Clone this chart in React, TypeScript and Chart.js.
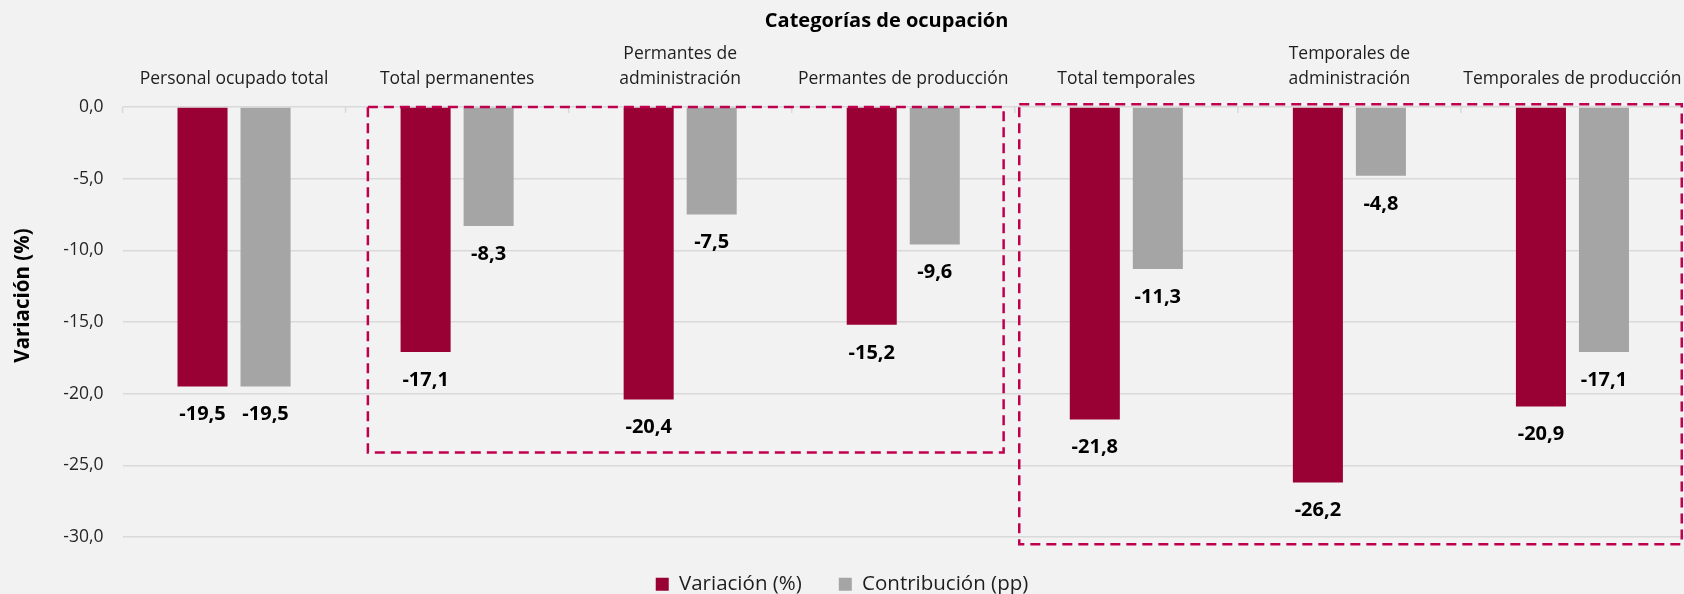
import React, { useEffect, useRef } from "react";
import { Chart, registerables } from "chart.js";

Chart.register(...registerables);

const categories: (string | string[])[] = [
  "Personal ocupado total",
  "Total permanentes",
  ["Permantes de", "administración"],
  "Permantes de producción",
  "Total temporales",
  ["Temporales de", "administración"],
  "Temporales de producción",
];
const variacion = [-19.5, -17.1, -20.4, -15.2, -21.8, -26.2, -20.9];
const contribucion = [-19.5, -8.3, -7.5, -9.6, -11.3, -4.8, -17.1];
const seriesLabels = ["Variación (%)", "Contribución (pp)"];
const seriesColors = ["#990033", "#a5a5a5"];
const yMin = -30;
const yMax = 0;
const yStep = 5;
const chartTitle = "Categorías de ocupación";
const yTitle = "Variación (%)";
// highlight boxes (category-index units / value units)
const boxXFrom = [0.6, 3.52];
const boxXTo = [3.45, 6.49];
const boxYTop = [0, 0.2];
const boxYBottom = [-24.1, -30.5];

const FONT = "'Open Sans', 'Noto Sans', sans-serif";
const fmt = (v: number) => v.toFixed(1).replace(".", ",");

const bgPlugin = {
  id: "bg",
  beforeDraw(chart: any) {
    const { ctx, width, height } = chart;
    ctx.save();
    ctx.fillStyle = "#f2f2f2";
    ctx.fillRect(0, 0, width, height);
    ctx.restore();
  },
};

const titlesPlugin = {
  id: "titles",
  afterDraw(chart: any) {
    const { ctx, width, height } = chart;
    ctx.save();
    ctx.fillStyle = "#000";
    ctx.textAlign = "center";
    ctx.textBaseline = "middle";
    ctx.font = `bold 20px ${FONT}`;
    ctx.fillText(chartTitle, width * 0.5265, 21);
    ctx.translate(23.3, height * 0.4975);
    ctx.rotate(-Math.PI / 2);
    ctx.font = `bold 20.5px ${FONT}`;
    ctx.fillText(yTitle, 0, 0);
    ctx.restore();
  },
};

const catTicksPlugin = {
  id: "catTicks",
  beforeDatasetsDraw(chart: any) {
    const { ctx } = chart;
    const xs = chart.scales.x;
    const ys = chart.scales.y;
    const y0 = ys.getPixelForValue(0);
    ctx.save();
    ctx.strokeStyle = "#d9d9d9";
    ctx.lineWidth = 1.5;
    for (let i = 0; i <= categories.length; i++) {
      const x = xs.getPixelForValue(i - 0.5);
      ctx.beginPath();
      ctx.moveTo(x, y0);
      ctx.lineTo(x, y0 + 6);
      ctx.stroke();
    }
    ctx.restore();
  },
};

const labelsPlugin = {
  id: "valueLabels",
  afterDatasetsDraw(chart: any) {
    const { ctx } = chart;
    ctx.save();
    ctx.font = `bold 20px ${FONT}`;
    ctx.fillStyle = "#000";
    ctx.textAlign = "center";
    ctx.textBaseline = "middle";
    chart.data.datasets.forEach((ds: any, di: number) => {
      const meta = chart.getDatasetMeta(di);
      meta.data.forEach((el: any, i: number) => {
        ctx.fillText(fmt(ds.data[i]), el.x, el.y + 28);
      });
    });
    ctx.restore();
  },
};

const boxesPlugin = {
  id: "boxes",
  afterDatasetsDraw(chart: any) {
    const { ctx } = chart;
    const xs = chart.scales.x;
    const ys = chart.scales.y;
    ctx.save();
    ctx.strokeStyle = "#c0004f";
    ctx.lineWidth = 2.5;
    ctx.setLineDash([10, 6]);
    for (let b = 0; b < boxXFrom.length; b++) {
      const x0 = xs.getPixelForValue(boxXFrom[b]);
      const x1 = xs.getPixelForValue(boxXTo[b]);
      const y0 = ys.getPixelForValue(boxYTop[b]);
      const y1 = ys.getPixelForValue(boxYBottom[b]);
      ctx.strokeRect(x0, y0, x1 - x0, y1 - y0);
    }
    ctx.restore();
  },
};

export default function App() {
  const ref = useRef<HTMLCanvasElement | null>(null);
  useEffect(() => {
    if (!ref.current) return;
    const chart = new Chart(ref.current, {
      type: "bar",
      data: {
        labels: categories as any,
        datasets: [
          {
            label: seriesLabels[0],
            data: variacion,
            backgroundColor: seriesColors[0],
            borderWidth: 0,
            barPercentage: 0.794,
            categoryPercentage: 0.565,
          },
          {
            label: seriesLabels[1],
            data: contribucion,
            backgroundColor: seriesColors[1],
            borderWidth: 0,
            barPercentage: 0.794,
            categoryPercentage: 0.565,
          },
        ],
      },
      options: {
        responsive: false,
        animation: false,
        devicePixelRatio: 1,
        layout: { padding: { left: 0, right: 0, top: 0, bottom: -10.5 } },
        plugins: {
          title: { display: false },
          legend: {
            position: "bottom",
            labels: {
              boxWidth: 13,
              boxHeight: 13,
              color: "#1e1e1e",
              font: { family: FONT, size: 20.5 },
              padding: 37,
            },
          },
          tooltip: { enabled: false },
        },
        scales: {
          x: {
            position: "top",
            grid: { display: false, drawTicks: false },
            border: { display: false },
            ticks: {
              color: "#1e1e1e",
              font: { family: FONT, size: 17.5, lineHeight: 25 / 17.5 },
              padding: 15,
              maxRotation: 0,
              autoSkip: false,
            },
            afterFit: (scale: any) => {
              scale.height = 107;
              scale.paddingLeft = 0;
              scale.paddingRight = 0;
            },
          },
          y: {
            min: yMin,
            max: yMax,
            ticks: {
              stepSize: yStep,
              color: "#262626",
              font: { family: FONT, size: 17.5 },
              padding: 19,
              callback: (v: any) => fmt(Number(v)),
            },
            grid: { color: "#d9d9d9", lineWidth: 1.5, drawTicks: false },
            border: { display: false },
            title: { display: false },
            afterFit: (scale: any) => {
              scale.width = 122.5;
            },
          },
        },
      },
      plugins: [bgPlugin, catTicksPlugin, labelsPlugin, boxesPlugin, titlesPlugin],
    });
    return () => chart.destroy();
  }, []);
  return (
    <div style={{ position: "fixed", left: 0, top: 0, width: 1684, height: 594 }}>
      <canvas ref={ref} width={1684} height={594} style={{ display: "block" }} />
    </div>
  );
}
